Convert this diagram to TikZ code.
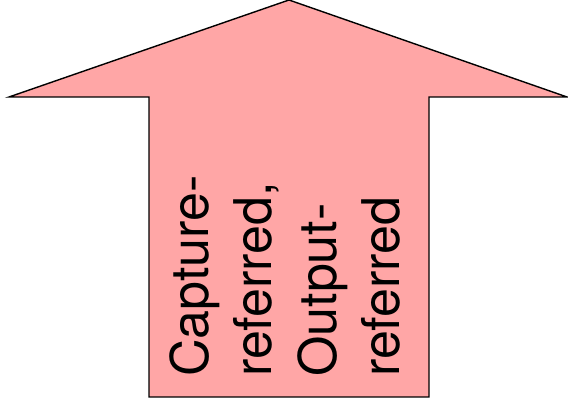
\documentclass[tikz,border=0pt]{standalone}
\usepackage{fontspec}
\setmainfont{TeX Gyre Heros}
\definecolor{arrowpink}{RGB}{255,166,166}
\tikzset{
  bigarrow/.style={fill=arrowpink, draw=black, line width=1.4pt, line join=miter},
  vlabel/.style={rotate=90, anchor=base west, inner sep=0pt, font=\fontsize{52}{63}\selectfont}
}
\begin{document}
\begin{tikzpicture}[x=1pt,y=1pt]
\useasboundingbox (0,0) rectangle (568,406);
\draw[bigarrow] (289,406) -- (567,309) -- (429,309) -- (429,9) -- (149,9) -- (149,309) -- (9,309) -- cycle;
\node[vlabel] (l1) at (208,29) {Capture-};
\node[vlabel] (l2) at (271,29) {referred,};
\node[vlabel] (l3) at (336,29) {Output-};
\node[vlabel] (l4) at (399,29) {referred};
\end{tikzpicture}
\end{document}
